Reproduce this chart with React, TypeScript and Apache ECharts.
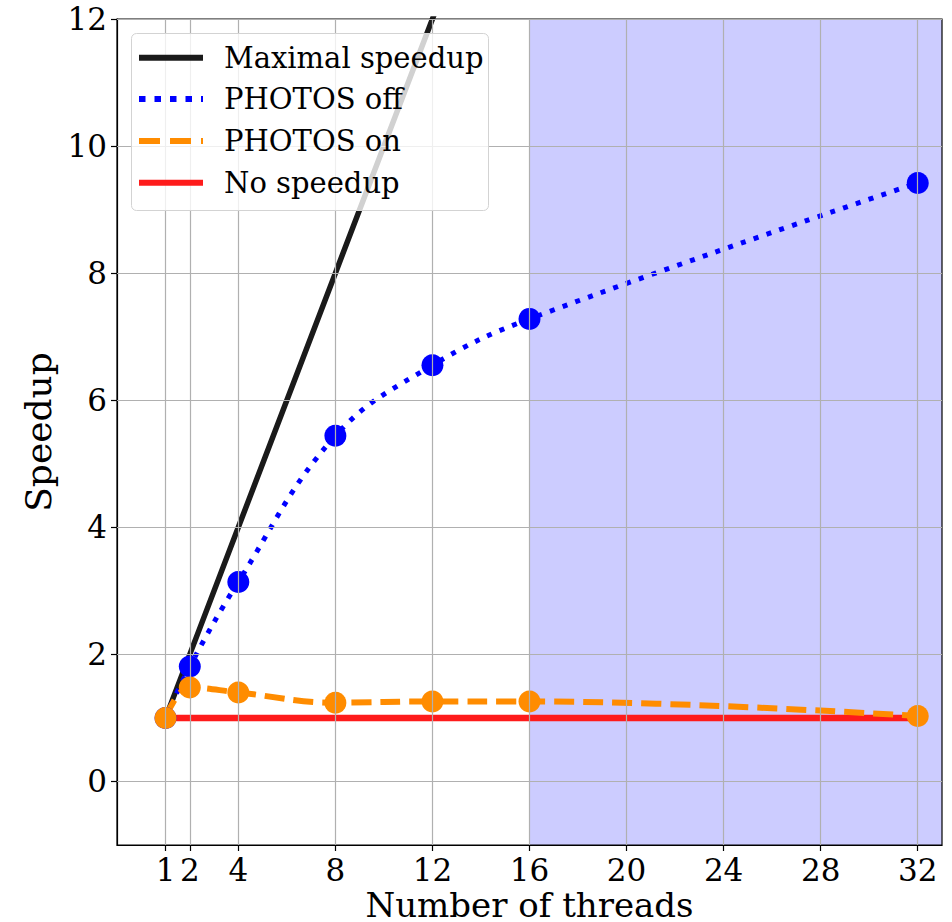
import React, { useEffect, useRef } from "react";
import * as echarts from "echarts";

const threads = [1, 2, 4, 8, 12, 16, 32];
const photosOff = [1, 1.81, 3.14, 5.44, 6.55, 7.28, 9.42];
const photosOn = [1, 1.48, 1.4, 1.24, 1.26, 1.26, 1.03];
const maximal = [1, 2, 4, 8, 12, 16, 32];
const noSpeedup = [1, 1, 1, 1, 1, 1, 1];
const xTicks = [1, 2, 4, 8, 12, 16, 20, 24, 28, 32];
const yTicks = [0, 2, 4, 6, 8, 10, 12];
const shadeRange = [16, 33];
const legendNames = ["Maximal speedup", "PHOTOS off", "PHOTOS on", "No speedup"];
const xTitle = "Number of threads";
const yTitle = "Speedup";

const FONT = "DejaVu Serif";

export default function App() {
  const ref = useRef<HTMLDivElement>(null);
  useEffect(() => {
    if (!ref.current) return;
    const chart = echarts.init(ref.current, undefined, { renderer: "svg" });
    const pair = (ys: number[]) => threads.map((t, i) => [t, ys[i]]);
    const rowY = [57.7, 99, 141, 182.7];
    const legendStyles = [
      { stroke: "#1a1a1a", lineWidth: 6 },
      { stroke: "#0000ff", lineWidth: 6, lineDash: [6.5, 9] },
      { stroke: "#ff8c00", lineWidth: 6, lineDash: [21, 10] },
      { stroke: "#fe1b1b", lineWidth: 6 },
    ];
    const LZ = 100;
    const legendChildren: any[] = [
      {
        type: "rect",
        z: LZ,
        zlevel: 1,
        shape: { x: 131.5, y: 33.5, width: 357, height: 177, r: 5 },
        style: { fill: "rgba(255,255,255,0.8)", stroke: "#d3d3d3", lineWidth: 1 },
      },
    ];
    legendNames.forEach((n, i) => {
      legendChildren.push({
        type: "line",
        z: LZ + 1,
        zlevel: 1,
        shape: { x1: 139, y1: rowY[i], x2: 203, y2: rowY[i] },
        style: { ...legendStyles[i], lineCap: "butt" },
      });
      legendChildren.push({
        type: "text",
        z: LZ + 1,
        zlevel: 1,
        x: 224,
        y: rowY[i],
        style: {
          text: n,
          fill: "#000",
          font: `29px '${FONT}'`,
          verticalAlign: "middle",
        },
      });
    });

    chart.setOption({
      animation: false,
      grid: {
        left: 117,
        right: 10,
        top: 19,
        bottom: 77,
        outerBoundsMode: "none",
        containLabel: false,
        show: true,
        borderColor: "#000",
        borderWidth: 1.2,
        backgroundColor: "transparent",
        z: 3,
      },
      xAxis: {
        type: "value",
        min: -1,
        max: 33,
        z: 3,
        axisLine: { show: true, onZero: false, lineStyle: { color: "#000", width: 1.2 } },
        axisTick: {
          show: true,
          length: 6,
          customValues: xTicks,
          lineStyle: { color: "#000", width: 1.2 },
        },
        axisLabel: {
          customValues: xTicks,
          margin: 9,
          fontFamily: FONT,
          fontSize: 31,
          lineHeight: 31,
          color: "#000",
        },
        splitLine: { show: false },
      },
      yAxis: {
        type: "value",
        min: -1,
        max: 12,
        z: 3,
        name: yTitle,
        nameLocation: "middle",
        nameGap: 57,
        nameTextStyle: { fontFamily: FONT, fontSize: 36, color: "#000" },
        axisLine: { show: true, onZero: false, lineStyle: { color: "#000", width: 1.2 } },
        axisTick: {
          show: true,
          length: 6,
          customValues: yTicks,
          lineStyle: { color: "#000", width: 1.2 },
        },
        axisLabel: {
          customValues: yTicks,
          margin: 10,
          fontFamily: FONT,
          fontSize: 31,
          color: "#000",
        },
        splitLine: { show: false },
      },
      series: [
        {
          type: "line",
          name: "shade",
          data: [],
          z: 1,
          silent: true,
          markArea: {
            silent: true,
            itemStyle: { color: "#ccccff", opacity: 1 },
            data: [[{ xAxis: shadeRange[0] }, { xAxis: shadeRange[1] }]],
          },
        },
        {
          type: "line",
          name: "grid",
          data: [],
          z: 1.5,
          silent: true,
          markLine: {
            silent: true,
            symbol: ["none", "none"],
            label: { show: false },
            lineStyle: { color: "#b0b0b0", width: 1.2, type: "solid" },
            emphasis: { disabled: true },
            data: [
              ...xTicks.map((v) => ({ xAxis: v })),
              ...yTicks.map((v) => ({ yAxis: v })),
            ],
          },
        },
        {
          type: "line",
          name: legendNames[0],
          data: pair(maximal),
          showSymbol: false,
          lineStyle: { color: "#1a1a1a", width: 5.5 },
          itemStyle: { color: "#1a1a1a" },
          z: 2,
        },
        {
          type: "line",
          name: legendNames[3],
          data: pair(noSpeedup),
          showSymbol: false,
          lineStyle: { color: "#fe1b1b", width: 6.5 },
          itemStyle: { color: "#fe1b1b" },
          z: 2,
        },
        {
          type: "line",
          name: legendNames[1],
          data: pair(photosOff),
          smooth: 0.4,
          symbol: "circle",
          symbolSize: 22,
          showSymbol: true,
          lineStyle: { color: "#0000ff", width: 5, type: [5, 8.5], cap: "butt" },
          itemStyle: { color: "#0000ff", borderWidth: 0 },
          z: 2,
        },
        {
          type: "line",
          name: legendNames[2],
          data: pair(photosOn),
          smooth: 0.4,
          symbol: "circle",
          symbolSize: 22,
          showSymbol: true,
          lineStyle: { color: "#ff8c00", width: 6, type: [20, 9], cap: "butt" },
          itemStyle: { color: "#ff8c00", borderWidth: 0 },
          z: 2,
        },
      ],
      graphic: {
        zlevel: 1,
        z: LZ,
        elements: [
          { type: "group", z: LZ, zlevel: 1, children: legendChildren },
          {
            type: "text",
            z: LZ,
            zlevel: 1,
            x: 529.5,
            y: 905,
            style: {
              text: xTitle,
              fill: "#000",
              font: `34px '${FONT}'`,
              align: "center",
              verticalAlign: "middle",
            },
          },
        ],
      },
    });
    return () => chart.dispose();
  }, []);
  return (
    <div
      ref={ref}
      style={{ position: "fixed", left: 0, top: 0, width: 952, height: 922, background: "#fff" }}
    />
  );
}
